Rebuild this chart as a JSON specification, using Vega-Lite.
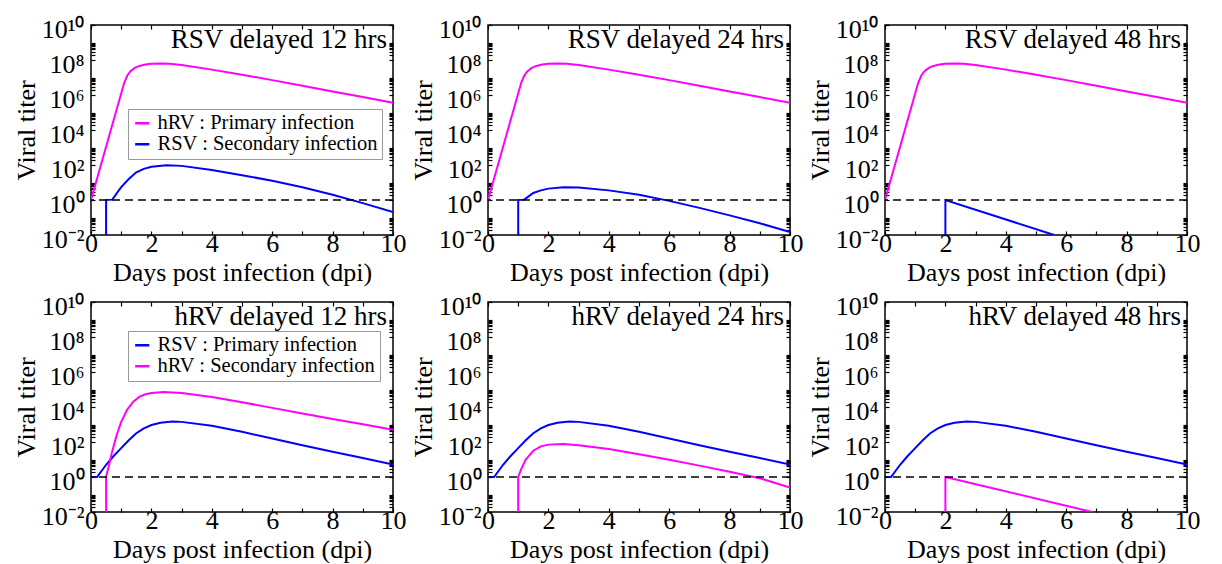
{
"$schema":"https://vega.github.io/schema/vega-lite/v6.json",
"background":"white",
"padding":{"left":12,"top":15,"right":0,"bottom":0},
"datasets":{"curves":[
{"curve":"hRVp","series":"hRV : Primary infection","seq":1,"day":0,"titer":1},
{"curve":"hRVp","series":"hRV : Primary infection","seq":2,"day":1.1,"titer":5.01e6},
{"curve":"hRVp","series":"hRV : Primary infection","seq":3,"day":1.2,"titer":1.259e7},
{"curve":"hRVp","series":"hRV : Primary infection","seq":4,"day":1.3,"titer":2.239e7},
{"curve":"hRVp","series":"hRV : Primary infection","seq":5,"day":1.45,"titer":3.548e7},
{"curve":"hRVp","series":"hRV : Primary infection","seq":6,"day":1.6,"titer":4.571e7},
{"curve":"hRVp","series":"hRV : Primary infection","seq":7,"day":1.8,"titer":5.495e7},
{"curve":"hRVp","series":"hRV : Primary infection","seq":8,"day":2.0,"titer":6.026e7},
{"curve":"hRVp","series":"hRV : Primary infection","seq":9,"day":2.3,"titer":6.31e7},
{"curve":"hRVp","series":"hRV : Primary infection","seq":10,"day":2.6,"titer":6.026e7},
{"curve":"hRVp","series":"hRV : Primary infection","seq":11,"day":3,"titer":5.129e7},
{"curve":"hRVp","series":"hRV : Primary infection","seq":12,"day":4,"titer":2.818e7},
{"curve":"hRVp","series":"hRV : Primary infection","seq":13,"day":5,"titer":1.445e7},
{"curve":"hRVp","series":"hRV : Primary infection","seq":14,"day":6,"titer":7.079e6},
{"curve":"hRVp","series":"hRV : Primary infection","seq":15,"day":7,"titer":3.388e6},
{"curve":"hRVp","series":"hRV : Primary infection","seq":16,"day":8,"titer":1.585e6},
{"curve":"hRVp","series":"hRV : Primary infection","seq":17,"day":9,"titer":7.586e5},
{"curve":"hRVp","series":"hRV : Primary infection","seq":18,"day":10,"titer":3.548e5},
{"curve":"RSV12","series":"RSV : Secondary infection","seq":1,"day":0.5,"titer":0.01},
{"curve":"RSV12","series":"RSV : Secondary infection","seq":2,"day":0.5,"titer":1},
{"curve":"RSV12","series":"RSV : Secondary infection","seq":3,"day":0.7,"titer":1.05},
{"curve":"RSV12","series":"RSV : Secondary infection","seq":4,"day":0.8,"titer":1.778},
{"curve":"RSV12","series":"RSV : Secondary infection","seq":5,"day":0.9,"titer":3.162},
{"curve":"RSV12","series":"RSV : Secondary infection","seq":6,"day":1.0,"titer":5.495},
{"curve":"RSV12","series":"RSV : Secondary infection","seq":7,"day":1.25,"titer":15.85},
{"curve":"RSV12","series":"RSV : Secondary infection","seq":8,"day":1.5,"titer":38.02},
{"curve":"RSV12","series":"RSV : Secondary infection","seq":9,"day":1.75,"titer":60.26},
{"curve":"RSV12","series":"RSV : Secondary infection","seq":10,"day":2.0,"titer":79.43},
{"curve":"RSV12","series":"RSV : Secondary infection","seq":11,"day":2.5,"titer":95.5},
{"curve":"RSV12","series":"RSV : Secondary infection","seq":12,"day":3,"titer":89.13},
{"curve":"RSV12","series":"RSV : Secondary infection","seq":13,"day":4,"titer":52.48},
{"curve":"RSV12","series":"RSV : Secondary infection","seq":14,"day":5,"titer":26.3},
{"curve":"RSV12","series":"RSV : Secondary infection","seq":15,"day":6,"titer":12.59},
{"curve":"RSV12","series":"RSV : Secondary infection","seq":16,"day":7,"titer":5.37},
{"curve":"RSV12","series":"RSV : Secondary infection","seq":17,"day":8,"titer":1.995},
{"curve":"RSV12","series":"RSV : Secondary infection","seq":18,"day":9,"titer":0.6607},
{"curve":"RSV12","series":"RSV : Secondary infection","seq":19,"day":10,"titer":0.2042},
{"curve":"RSV24","series":"RSV : Secondary infection","seq":1,"day":1.0,"titer":0.01},
{"curve":"RSV24","series":"RSV : Secondary infection","seq":2,"day":1.0,"titer":1},
{"curve":"RSV24","series":"RSV : Secondary infection","seq":3,"day":1.2,"titer":1.05},
{"curve":"RSV24","series":"RSV : Secondary infection","seq":4,"day":1.3,"titer":1.413},
{"curve":"RSV24","series":"RSV : Secondary infection","seq":5,"day":1.5,"titer":2.512},
{"curve":"RSV24","series":"RSV : Secondary infection","seq":6,"day":1.75,"titer":3.548},
{"curve":"RSV24","series":"RSV : Secondary infection","seq":7,"day":2.0,"titer":4.467},
{"curve":"RSV24","series":"RSV : Secondary infection","seq":8,"day":2.5,"titer":5.37},
{"curve":"RSV24","series":"RSV : Secondary infection","seq":9,"day":3.0,"titer":5.248},
{"curve":"RSV24","series":"RSV : Secondary infection","seq":10,"day":4,"titer":3.548},
{"curve":"RSV24","series":"RSV : Secondary infection","seq":11,"day":5,"titer":1.995},
{"curve":"RSV24","series":"RSV : Secondary infection","seq":12,"day":6,"titer":0.8913},
{"curve":"RSV24","series":"RSV : Secondary infection","seq":13,"day":7,"titer":0.3548},
{"curve":"RSV24","series":"RSV : Secondary infection","seq":14,"day":8,"titer":0.1318},
{"curve":"RSV24","series":"RSV : Secondary infection","seq":15,"day":9,"titer":0.04677},
{"curve":"RSV24","series":"RSV : Secondary infection","seq":16,"day":10,"titer":0.01479},
{"curve":"RSV48","series":"RSV : Secondary infection","seq":1,"day":2,"titer":0.01},
{"curve":"RSV48","series":"RSV : Secondary infection","seq":2,"day":2,"titer":1},
{"curve":"RSV48","series":"RSV : Secondary infection","seq":3,"day":5.6,"titer":0.01},
{"curve":"RSVp","series":"RSV : Primary infection","seq":1,"day":0,"titer":1},
{"curve":"RSVp","series":"RSV : Primary infection","seq":2,"day":0.2,"titer":1},
{"curve":"RSVp","series":"RSV : Primary infection","seq":3,"day":0.5,"titer":5.012},
{"curve":"RSVp","series":"RSV : Primary infection","seq":4,"day":0.75,"titer":15.85},
{"curve":"RSVp","series":"RSV : Primary infection","seq":5,"day":1.0,"titer":44.67},
{"curve":"RSVp","series":"RSV : Primary infection","seq":6,"day":1.25,"titer":125.9},
{"curve":"RSVp","series":"RSV : Primary infection","seq":7,"day":1.5,"titer":316.2},
{"curve":"RSVp","series":"RSV : Primary infection","seq":8,"day":1.75,"titer":602.6},
{"curve":"RSVp","series":"RSV : Primary infection","seq":9,"day":2.0,"titer":933.3},
{"curve":"RSVp","series":"RSV : Primary infection","seq":10,"day":2.3,"titer":1259},
{"curve":"RSVp","series":"RSV : Primary infection","seq":11,"day":2.7,"titer":1479},
{"curve":"RSVp","series":"RSV : Primary infection","seq":12,"day":3.0,"titer":1413},
{"curve":"RSVp","series":"RSV : Primary infection","seq":13,"day":4,"titer":851.1},
{"curve":"RSVp","series":"RSV : Primary infection","seq":14,"day":5,"titer":380.2},
{"curve":"RSVp","series":"RSV : Primary infection","seq":15,"day":6,"titer":158.5},
{"curve":"RSVp","series":"RSV : Primary infection","seq":16,"day":7,"titer":66.07},
{"curve":"RSVp","series":"RSV : Primary infection","seq":17,"day":8,"titer":27.54},
{"curve":"RSVp","series":"RSV : Primary infection","seq":18,"day":9,"titer":12.02},
{"curve":"RSVp","series":"RSV : Primary infection","seq":19,"day":10,"titer":5.248},
{"curve":"hRV12","series":"hRV : Secondary infection","seq":1,"day":0.5,"titer":0.01},
{"curve":"hRV12","series":"hRV : Secondary infection","seq":2,"day":0.5,"titer":1},
{"curve":"hRV12","series":"hRV : Secondary infection","seq":3,"day":0.6,"titer":5.012},
{"curve":"hRV12","series":"hRV : Secondary infection","seq":4,"day":0.7,"titer":28.18},
{"curve":"hRV12","series":"hRV : Secondary infection","seq":5,"day":0.85,"titer":251.2},
{"curve":"hRV12","series":"hRV : Secondary infection","seq":6,"day":1.0,"titer":1413},
{"curve":"hRV12","series":"hRV : Secondary infection","seq":7,"day":1.2,"titer":7079},
{"curve":"hRV12","series":"hRV : Secondary infection","seq":8,"day":1.4,"titer":19953},
{"curve":"hRV12","series":"hRV : Secondary infection","seq":9,"day":1.6,"titer":38019},
{"curve":"hRV12","series":"hRV : Secondary infection","seq":10,"day":1.8,"titer":53703},
{"curve":"hRV12","series":"hRV : Secondary infection","seq":11,"day":2.0,"titer":63096},
{"curve":"hRV12","series":"hRV : Secondary infection","seq":12,"day":2.4,"titer":72444},
{"curve":"hRV12","series":"hRV : Secondary infection","seq":13,"day":3.0,"titer":63096},
{"curve":"hRV12","series":"hRV : Secondary infection","seq":14,"day":4,"titer":37154},
{"curve":"hRV12","series":"hRV : Secondary infection","seq":15,"day":5,"titer":18621},
{"curve":"hRV12","series":"hRV : Secondary infection","seq":16,"day":6,"titer":8913},
{"curve":"hRV12","series":"hRV : Secondary infection","seq":17,"day":7,"titer":4266},
{"curve":"hRV12","series":"hRV : Secondary infection","seq":18,"day":8,"titer":2089},
{"curve":"hRV12","series":"hRV : Secondary infection","seq":19,"day":9,"titer":1023},
{"curve":"hRV12","series":"hRV : Secondary infection","seq":20,"day":10,"titer":501.2},
{"curve":"hRV24","series":"hRV : Secondary infection","seq":1,"day":1.0,"titer":0.01},
{"curve":"hRV24","series":"hRV : Secondary infection","seq":2,"day":1.0,"titer":1},
{"curve":"hRV24","series":"hRV : Secondary infection","seq":3,"day":1.1,"titer":2.818},
{"curve":"hRV24","series":"hRV : Secondary infection","seq":4,"day":1.25,"titer":10},
{"curve":"hRV24","series":"hRV : Secondary infection","seq":5,"day":1.5,"titer":31.62},
{"curve":"hRV24","series":"hRV : Secondary infection","seq":6,"day":1.75,"titer":56.23},
{"curve":"hRV24","series":"hRV : Secondary infection","seq":7,"day":2.0,"titer":70.79},
{"curve":"hRV24","series":"hRV : Secondary infection","seq":8,"day":2.5,"titer":75.86},
{"curve":"hRV24","series":"hRV : Secondary infection","seq":9,"day":3.0,"titer":66.07},
{"curve":"hRV24","series":"hRV : Secondary infection","seq":10,"day":4,"titer":39.81},
{"curve":"hRV24","series":"hRV : Secondary infection","seq":11,"day":5,"titer":19.95},
{"curve":"hRV24","series":"hRV : Secondary infection","seq":12,"day":6,"titer":9.55},
{"curve":"hRV24","series":"hRV : Secondary infection","seq":13,"day":7,"titer":4.467},
{"curve":"hRV24","series":"hRV : Secondary infection","seq":14,"day":8,"titer":1.995},
{"curve":"hRV24","series":"hRV : Secondary infection","seq":15,"day":9,"titer":0.8511},
{"curve":"hRV24","series":"hRV : Secondary infection","seq":16,"day":10,"titer":0.2512},
{"curve":"hRV48","series":"hRV : Secondary infection","seq":1,"day":2,"titer":0.01},
{"curve":"hRV48","series":"hRV : Secondary infection","seq":2,"day":2,"titer":1},
{"curve":"hRV48","series":"hRV : Secondary infection","seq":3,"day":6.86,"titer":0.01}
]},
"columns":3,
"spacing":{"row":67,"column":95},
"bounds":"flush",
"resolve":{"scale":{"color":"independent","x":"independent","y":"independent"},"legend":{"color":"independent"}},
"concat":[
{"width":302,"height":210,
 "title":{"text":"RSV delayed 12 hrs"},
 "resolve":{"axis":{"x":"independent","y":"independent"}},
 "layer":[
  {"data":{"name":"curves"},"transform":[{"filter":"datum.curve == 'hRVp' || datum.curve == 'RSV12'"}],
   "mark":{"type":"line","strokeWidth":2,"clip":true},
   "encoding":{
    "x":{"field":"day","type":"quantitative","scale":{"domain":[0,10]},"axis":{"orient":"bottom","values":[0,2,4,6,8,10],"title":"Days post infection (dpi)","labelFlush":false,"labelOverlap":false}},
    "y":{"field":"titer","type":"quantitative","scale":{"type":"log","domain":[0.01,1e10]},"axis":{"orient":"left","values":[0.01,1,100,10000,1000000,100000000,10000000000],"labelExpr":"datum.value == 1e10 ? '10¹⁰' : datum.value == 1e8 ? '10⁸' : datum.value == 1e6 ? '10⁶' : datum.value == 1e4 ? '10⁴' : datum.value == 100 ? '10²' : datum.value == 1 ? '10⁰' : '10⁻²'","title":"Viral titer","labelOverlap":false}},
    "color":{"field":"series","type":"nominal","scale":{"domain":["hRV : Primary infection","RSV : Secondary infection"],"range":["#ff00ff","#0000ff"]},"legend":{"orient":"none","legendX":37,"legendY":84}},
    "order":{"field":"seq"}}},
  {"data":{"name":"curves"},"transform":[{"filter":"datum.curve == 'hRVp' || datum.curve == 'RSV12'"}],
   "mark":{"type":"point","opacity":0},
   "encoding":{
    "x":{"field":"day","type":"quantitative","scale":{"domain":[0,10]},"axis":{"orient":"top","values":[0,1,2,3,4,5,6,7,8,9,10],"labels":false,"title":null}},
    "y":{"field":"titer","type":"quantitative","scale":{"type":"log","domain":[0.01,1e10]},"axis":{"orient":"right","values":[0.01,0.02,0.03,0.04,0.05,0.06,0.07,0.08,0.09,1,2,3,4,5,6,7,8,9,100,200,300,400,500,600,700,800,900,10000,20000,30000,40000,50000,60000,70000,80000,90000,1000000,2000000,3000000,4000000,5000000,6000000,7000000,8000000,9000000,100000000,200000000,300000000,400000000,500000000,600000000,700000000,800000000,900000000,10000000000],"labels":false,"title":null}}}},
  {"data":{"name":"curves"},"transform":[{"filter":"datum.curve == 'hRVp' || datum.curve == 'RSV12'"}],
   "mark":{"type":"point","opacity":0},
   "encoding":{
    "x":{"field":"day","type":"quantitative","scale":{"domain":[0,10]},"axis":{"orient":"bottom","values":[1,3,5,7,9],"labels":false,"title":null}},
    "y":{"field":"titer","type":"quantitative","scale":{"type":"log","domain":[0.01,1e10]},"axis":{"orient":"left","values":[0.02,0.03,0.04,0.05,0.06,0.07,0.08,0.09,2,3,4,5,6,7,8,9,200,300,400,500,600,700,800,900,20000,30000,40000,50000,60000,70000,80000,90000,2000000,3000000,4000000,5000000,6000000,7000000,8000000,9000000,200000000,300000000,400000000,500000000,600000000,700000000,800000000,900000000],"labels":false,"title":null}}}},
  {"data":{"values":[{"threshold":1}]},
   "mark":{"type":"rule","strokeDash":[8,5],"strokeWidth":1.6,"color":"#000"},
   "encoding":{"y":{"field":"threshold","type":"quantitative","axis":null}}}
 ]},
{"width":302,"height":210,
 "title":{"text":"RSV delayed 24 hrs"},
 "resolve":{"axis":{"x":"independent","y":"independent"}},
 "layer":[
  {"data":{"name":"curves"},"transform":[{"filter":"datum.curve == 'hRVp' || datum.curve == 'RSV24'"}],
   "mark":{"type":"line","strokeWidth":2,"clip":true},
   "encoding":{
    "x":{"field":"day","type":"quantitative","scale":{"domain":[0,10]},"axis":{"orient":"bottom","values":[0,2,4,6,8,10],"title":"Days post infection (dpi)","labelFlush":false,"labelOverlap":false}},
    "y":{"field":"titer","type":"quantitative","scale":{"type":"log","domain":[0.01,1e10]},"axis":{"orient":"left","values":[0.01,1,100,10000,1000000,100000000,10000000000],"labelExpr":"datum.value == 1e10 ? '10¹⁰' : datum.value == 1e8 ? '10⁸' : datum.value == 1e6 ? '10⁶' : datum.value == 1e4 ? '10⁴' : datum.value == 100 ? '10²' : datum.value == 1 ? '10⁰' : '10⁻²'","title":"Viral titer","labelOverlap":false}},
    "color":{"field":"series","type":"nominal","scale":{"domain":["hRV : Primary infection","RSV : Secondary infection"],"range":["#ff00ff","#0000ff"]},"legend":null},
    "order":{"field":"seq"}}},
  {"data":{"name":"curves"},"transform":[{"filter":"datum.curve == 'hRVp' || datum.curve == 'RSV24'"}],
   "mark":{"type":"point","opacity":0},
   "encoding":{
    "x":{"field":"day","type":"quantitative","scale":{"domain":[0,10]},"axis":{"orient":"top","values":[0,1,2,3,4,5,6,7,8,9,10],"labels":false,"title":null}},
    "y":{"field":"titer","type":"quantitative","scale":{"type":"log","domain":[0.01,1e10]},"axis":{"orient":"right","values":[0.01,0.02,0.03,0.04,0.05,0.06,0.07,0.08,0.09,1,2,3,4,5,6,7,8,9,100,200,300,400,500,600,700,800,900,10000,20000,30000,40000,50000,60000,70000,80000,90000,1000000,2000000,3000000,4000000,5000000,6000000,7000000,8000000,9000000,100000000,200000000,300000000,400000000,500000000,600000000,700000000,800000000,900000000,10000000000],"labels":false,"title":null}}}},
  {"data":{"name":"curves"},"transform":[{"filter":"datum.curve == 'hRVp' || datum.curve == 'RSV24'"}],
   "mark":{"type":"point","opacity":0},
   "encoding":{
    "x":{"field":"day","type":"quantitative","scale":{"domain":[0,10]},"axis":{"orient":"bottom","values":[1,3,5,7,9],"labels":false,"title":null}},
    "y":{"field":"titer","type":"quantitative","scale":{"type":"log","domain":[0.01,1e10]},"axis":{"orient":"left","values":[0.02,0.03,0.04,0.05,0.06,0.07,0.08,0.09,2,3,4,5,6,7,8,9,200,300,400,500,600,700,800,900,20000,30000,40000,50000,60000,70000,80000,90000,2000000,3000000,4000000,5000000,6000000,7000000,8000000,9000000,200000000,300000000,400000000,500000000,600000000,700000000,800000000,900000000],"labels":false,"title":null}}}},
  {"data":{"values":[{"threshold":1}]},
   "mark":{"type":"rule","strokeDash":[8,5],"strokeWidth":1.6,"color":"#000"},
   "encoding":{"y":{"field":"threshold","type":"quantitative","axis":null}}}
 ]},
{"width":302,"height":210,
 "title":{"text":"RSV delayed 48 hrs"},
 "resolve":{"axis":{"x":"independent","y":"independent"}},
 "layer":[
  {"data":{"name":"curves"},"transform":[{"filter":"datum.curve == 'hRVp' || datum.curve == 'RSV48'"}],
   "mark":{"type":"line","strokeWidth":2,"clip":true},
   "encoding":{
    "x":{"field":"day","type":"quantitative","scale":{"domain":[0,10]},"axis":{"orient":"bottom","values":[0,2,4,6,8,10],"title":"Days post infection (dpi)","labelFlush":false,"labelOverlap":false}},
    "y":{"field":"titer","type":"quantitative","scale":{"type":"log","domain":[0.01,1e10]},"axis":{"orient":"left","values":[0.01,1,100,10000,1000000,100000000,10000000000],"labelExpr":"datum.value == 1e10 ? '10¹⁰' : datum.value == 1e8 ? '10⁸' : datum.value == 1e6 ? '10⁶' : datum.value == 1e4 ? '10⁴' : datum.value == 100 ? '10²' : datum.value == 1 ? '10⁰' : '10⁻²'","title":"Viral titer","labelOverlap":false}},
    "color":{"field":"series","type":"nominal","scale":{"domain":["hRV : Primary infection","RSV : Secondary infection"],"range":["#ff00ff","#0000ff"]},"legend":null},
    "order":{"field":"seq"}}},
  {"data":{"name":"curves"},"transform":[{"filter":"datum.curve == 'hRVp' || datum.curve == 'RSV48'"}],
   "mark":{"type":"point","opacity":0},
   "encoding":{
    "x":{"field":"day","type":"quantitative","scale":{"domain":[0,10]},"axis":{"orient":"top","values":[0,1,2,3,4,5,6,7,8,9,10],"labels":false,"title":null}},
    "y":{"field":"titer","type":"quantitative","scale":{"type":"log","domain":[0.01,1e10]},"axis":{"orient":"right","values":[0.01,0.02,0.03,0.04,0.05,0.06,0.07,0.08,0.09,1,2,3,4,5,6,7,8,9,100,200,300,400,500,600,700,800,900,10000,20000,30000,40000,50000,60000,70000,80000,90000,1000000,2000000,3000000,4000000,5000000,6000000,7000000,8000000,9000000,100000000,200000000,300000000,400000000,500000000,600000000,700000000,800000000,900000000,10000000000],"labels":false,"title":null}}}},
  {"data":{"name":"curves"},"transform":[{"filter":"datum.curve == 'hRVp' || datum.curve == 'RSV48'"}],
   "mark":{"type":"point","opacity":0},
   "encoding":{
    "x":{"field":"day","type":"quantitative","scale":{"domain":[0,10]},"axis":{"orient":"bottom","values":[1,3,5,7,9],"labels":false,"title":null}},
    "y":{"field":"titer","type":"quantitative","scale":{"type":"log","domain":[0.01,1e10]},"axis":{"orient":"left","values":[0.02,0.03,0.04,0.05,0.06,0.07,0.08,0.09,2,3,4,5,6,7,8,9,200,300,400,500,600,700,800,900,20000,30000,40000,50000,60000,70000,80000,90000,2000000,3000000,4000000,5000000,6000000,7000000,8000000,9000000,200000000,300000000,400000000,500000000,600000000,700000000,800000000,900000000],"labels":false,"title":null}}}},
  {"data":{"values":[{"threshold":1}]},
   "mark":{"type":"rule","strokeDash":[8,5],"strokeWidth":1.6,"color":"#000"},
   "encoding":{"y":{"field":"threshold","type":"quantitative","axis":null}}}
 ]},
{"width":302,"height":210,
 "title":{"text":"hRV delayed 12 hrs"},
 "resolve":{"axis":{"x":"independent","y":"independent"}},
 "layer":[
  {"data":{"name":"curves"},"transform":[{"filter":"datum.curve == 'RSVp' || datum.curve == 'hRV12'"}],
   "mark":{"type":"line","strokeWidth":2,"clip":true},
   "encoding":{
    "x":{"field":"day","type":"quantitative","scale":{"domain":[0,10]},"axis":{"orient":"bottom","values":[0,2,4,6,8,10],"title":"Days post infection (dpi)","labelFlush":false,"labelOverlap":false}},
    "y":{"field":"titer","type":"quantitative","scale":{"type":"log","domain":[0.01,1e10]},"axis":{"orient":"left","values":[0.01,1,100,10000,1000000,100000000,10000000000],"labelExpr":"datum.value == 1e10 ? '10¹⁰' : datum.value == 1e8 ? '10⁸' : datum.value == 1e6 ? '10⁶' : datum.value == 1e4 ? '10⁴' : datum.value == 100 ? '10²' : datum.value == 1 ? '10⁰' : '10⁻²'","title":"Viral titer","labelOverlap":false}},
    "color":{"field":"series","type":"nominal","scale":{"domain":["RSV : Primary infection","hRV : Secondary infection"],"range":["#0000ff","#ff00ff"]},"legend":{"orient":"none","legendX":37,"legendY":29}},
    "order":{"field":"seq"}}},
  {"data":{"name":"curves"},"transform":[{"filter":"datum.curve == 'RSVp' || datum.curve == 'hRV12'"}],
   "mark":{"type":"point","opacity":0},
   "encoding":{
    "x":{"field":"day","type":"quantitative","scale":{"domain":[0,10]},"axis":{"orient":"top","values":[0,1,2,3,4,5,6,7,8,9,10],"labels":false,"title":null}},
    "y":{"field":"titer","type":"quantitative","scale":{"type":"log","domain":[0.01,1e10]},"axis":{"orient":"right","values":[0.01,0.02,0.03,0.04,0.05,0.06,0.07,0.08,0.09,1,2,3,4,5,6,7,8,9,100,200,300,400,500,600,700,800,900,10000,20000,30000,40000,50000,60000,70000,80000,90000,1000000,2000000,3000000,4000000,5000000,6000000,7000000,8000000,9000000,100000000,200000000,300000000,400000000,500000000,600000000,700000000,800000000,900000000,10000000000],"labels":false,"title":null}}}},
  {"data":{"name":"curves"},"transform":[{"filter":"datum.curve == 'RSVp' || datum.curve == 'hRV12'"}],
   "mark":{"type":"point","opacity":0},
   "encoding":{
    "x":{"field":"day","type":"quantitative","scale":{"domain":[0,10]},"axis":{"orient":"bottom","values":[1,3,5,7,9],"labels":false,"title":null}},
    "y":{"field":"titer","type":"quantitative","scale":{"type":"log","domain":[0.01,1e10]},"axis":{"orient":"left","values":[0.02,0.03,0.04,0.05,0.06,0.07,0.08,0.09,2,3,4,5,6,7,8,9,200,300,400,500,600,700,800,900,20000,30000,40000,50000,60000,70000,80000,90000,2000000,3000000,4000000,5000000,6000000,7000000,8000000,9000000,200000000,300000000,400000000,500000000,600000000,700000000,800000000,900000000],"labels":false,"title":null}}}},
  {"data":{"values":[{"threshold":1}]},
   "mark":{"type":"rule","strokeDash":[8,5],"strokeWidth":1.6,"color":"#000"},
   "encoding":{"y":{"field":"threshold","type":"quantitative","axis":null}}}
 ]},
{"width":302,"height":210,
 "title":{"text":"hRV delayed 24 hrs"},
 "resolve":{"axis":{"x":"independent","y":"independent"}},
 "layer":[
  {"data":{"name":"curves"},"transform":[{"filter":"datum.curve == 'RSVp' || datum.curve == 'hRV24'"}],
   "mark":{"type":"line","strokeWidth":2,"clip":true},
   "encoding":{
    "x":{"field":"day","type":"quantitative","scale":{"domain":[0,10]},"axis":{"orient":"bottom","values":[0,2,4,6,8,10],"title":"Days post infection (dpi)","labelFlush":false,"labelOverlap":false}},
    "y":{"field":"titer","type":"quantitative","scale":{"type":"log","domain":[0.01,1e10]},"axis":{"orient":"left","values":[0.01,1,100,10000,1000000,100000000,10000000000],"labelExpr":"datum.value == 1e10 ? '10¹⁰' : datum.value == 1e8 ? '10⁸' : datum.value == 1e6 ? '10⁶' : datum.value == 1e4 ? '10⁴' : datum.value == 100 ? '10²' : datum.value == 1 ? '10⁰' : '10⁻²'","title":"Viral titer","labelOverlap":false}},
    "color":{"field":"series","type":"nominal","scale":{"domain":["RSV : Primary infection","hRV : Secondary infection"],"range":["#0000ff","#ff00ff"]},"legend":null},
    "order":{"field":"seq"}}},
  {"data":{"name":"curves"},"transform":[{"filter":"datum.curve == 'RSVp' || datum.curve == 'hRV24'"}],
   "mark":{"type":"point","opacity":0},
   "encoding":{
    "x":{"field":"day","type":"quantitative","scale":{"domain":[0,10]},"axis":{"orient":"top","values":[0,1,2,3,4,5,6,7,8,9,10],"labels":false,"title":null}},
    "y":{"field":"titer","type":"quantitative","scale":{"type":"log","domain":[0.01,1e10]},"axis":{"orient":"right","values":[0.01,0.02,0.03,0.04,0.05,0.06,0.07,0.08,0.09,1,2,3,4,5,6,7,8,9,100,200,300,400,500,600,700,800,900,10000,20000,30000,40000,50000,60000,70000,80000,90000,1000000,2000000,3000000,4000000,5000000,6000000,7000000,8000000,9000000,100000000,200000000,300000000,400000000,500000000,600000000,700000000,800000000,900000000,10000000000],"labels":false,"title":null}}}},
  {"data":{"name":"curves"},"transform":[{"filter":"datum.curve == 'RSVp' || datum.curve == 'hRV24'"}],
   "mark":{"type":"point","opacity":0},
   "encoding":{
    "x":{"field":"day","type":"quantitative","scale":{"domain":[0,10]},"axis":{"orient":"bottom","values":[1,3,5,7,9],"labels":false,"title":null}},
    "y":{"field":"titer","type":"quantitative","scale":{"type":"log","domain":[0.01,1e10]},"axis":{"orient":"left","values":[0.02,0.03,0.04,0.05,0.06,0.07,0.08,0.09,2,3,4,5,6,7,8,9,200,300,400,500,600,700,800,900,20000,30000,40000,50000,60000,70000,80000,90000,2000000,3000000,4000000,5000000,6000000,7000000,8000000,9000000,200000000,300000000,400000000,500000000,600000000,700000000,800000000,900000000],"labels":false,"title":null}}}},
  {"data":{"values":[{"threshold":1}]},
   "mark":{"type":"rule","strokeDash":[8,5],"strokeWidth":1.6,"color":"#000"},
   "encoding":{"y":{"field":"threshold","type":"quantitative","axis":null}}}
 ]},
{"width":302,"height":210,
 "title":{"text":"hRV delayed 48 hrs"},
 "resolve":{"axis":{"x":"independent","y":"independent"}},
 "layer":[
  {"data":{"name":"curves"},"transform":[{"filter":"datum.curve == 'RSVp' || datum.curve == 'hRV48'"}],
   "mark":{"type":"line","strokeWidth":2,"clip":true},
   "encoding":{
    "x":{"field":"day","type":"quantitative","scale":{"domain":[0,10]},"axis":{"orient":"bottom","values":[0,2,4,6,8,10],"title":"Days post infection (dpi)","labelFlush":false,"labelOverlap":false}},
    "y":{"field":"titer","type":"quantitative","scale":{"type":"log","domain":[0.01,1e10]},"axis":{"orient":"left","values":[0.01,1,100,10000,1000000,100000000,10000000000],"labelExpr":"datum.value == 1e10 ? '10¹⁰' : datum.value == 1e8 ? '10⁸' : datum.value == 1e6 ? '10⁶' : datum.value == 1e4 ? '10⁴' : datum.value == 100 ? '10²' : datum.value == 1 ? '10⁰' : '10⁻²'","title":"Viral titer","labelOverlap":false}},
    "color":{"field":"series","type":"nominal","scale":{"domain":["RSV : Primary infection","hRV : Secondary infection"],"range":["#0000ff","#ff00ff"]},"legend":null},
    "order":{"field":"seq"}}},
  {"data":{"name":"curves"},"transform":[{"filter":"datum.curve == 'RSVp' || datum.curve == 'hRV48'"}],
   "mark":{"type":"point","opacity":0},
   "encoding":{
    "x":{"field":"day","type":"quantitative","scale":{"domain":[0,10]},"axis":{"orient":"top","values":[0,1,2,3,4,5,6,7,8,9,10],"labels":false,"title":null}},
    "y":{"field":"titer","type":"quantitative","scale":{"type":"log","domain":[0.01,1e10]},"axis":{"orient":"right","values":[0.01,0.02,0.03,0.04,0.05,0.06,0.07,0.08,0.09,1,2,3,4,5,6,7,8,9,100,200,300,400,500,600,700,800,900,10000,20000,30000,40000,50000,60000,70000,80000,90000,1000000,2000000,3000000,4000000,5000000,6000000,7000000,8000000,9000000,100000000,200000000,300000000,400000000,500000000,600000000,700000000,800000000,900000000,10000000000],"labels":false,"title":null}}}},
  {"data":{"name":"curves"},"transform":[{"filter":"datum.curve == 'RSVp' || datum.curve == 'hRV48'"}],
   "mark":{"type":"point","opacity":0},
   "encoding":{
    "x":{"field":"day","type":"quantitative","scale":{"domain":[0,10]},"axis":{"orient":"bottom","values":[1,3,5,7,9],"labels":false,"title":null}},
    "y":{"field":"titer","type":"quantitative","scale":{"type":"log","domain":[0.01,1e10]},"axis":{"orient":"left","values":[0.02,0.03,0.04,0.05,0.06,0.07,0.08,0.09,2,3,4,5,6,7,8,9,200,300,400,500,600,700,800,900,20000,30000,40000,50000,60000,70000,80000,90000,2000000,3000000,4000000,5000000,6000000,7000000,8000000,9000000,200000000,300000000,400000000,500000000,600000000,700000000,800000000,900000000],"labels":false,"title":null}}}},
  {"data":{"values":[{"threshold":1}]},
   "mark":{"type":"rule","strokeDash":[8,5],"strokeWidth":1.6,"color":"#000"},
   "encoding":{"y":{"field":"threshold","type":"quantitative","axis":null}}}
 ]}
],
"config":{
 "font":"Liberation Serif",
 "view":{"stroke":"#000","strokeWidth":1.5},
 "axis":{"domain":false,"grid":false,"labelFont":"Liberation Serif","labelColor":"#000","labelFontSize":26,"titleFont":"Liberation Serif","titleFontSize":26,"titleFontWeight":"normal","titleColor":"#000","tickColor":"#000","tickWidth":1.2,"tickSize":-4},
 "axisX":{"labelPadding":-1,"titlePadding":3},
 "axisY":{"labelPadding":11,"titlePadding":2,"labelOffset":4},
 "legend":{"title":null,"symbolType":"stroke","symbolSize":200,"symbolStrokeWidth":2.5,"labelFont":"Liberation Serif","labelFontSize":20.5,"labelColor":"#000","labelLimit":600,"strokeColor":"#999","fillColor":"#fff","padding":4,"rowPadding":0,"labelOffset":5},
 "title":{"font":"Liberation Serif","fontSize":27,"fontWeight":"normal","color":"#000","anchor":"end","frame":"group","offset":0,"dy":42,"dx":-6}
}
}
